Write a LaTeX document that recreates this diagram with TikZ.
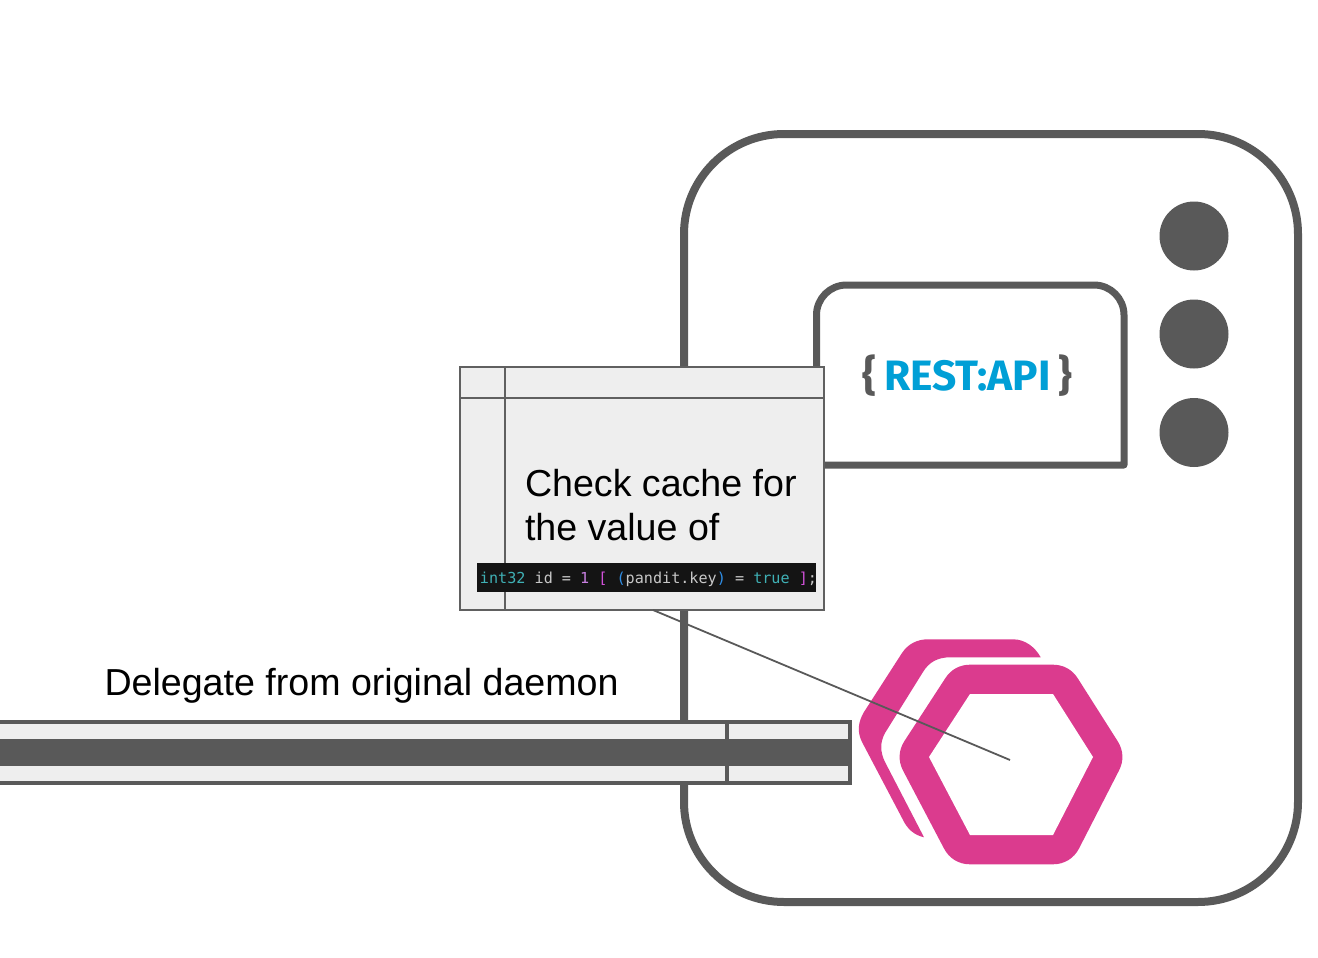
\documentclass[tikz,border=0pt]{standalone}
\usepackage{fontspec}
\setmainfont{Liberation Sans}
\newfontfamily\codefont{DejaVu Sans Mono}
\newfontfamily\brandfont{Fira Sans}
\usepackage{xcolor}
\definecolor{framegrey}{HTML}{595959}
\definecolor{boxgrey}{HTML}{EEEEEE}
\definecolor{edgegrey}{HTML}{606060}
\definecolor{hexpink}{HTML}{DB3B8E}
\definecolor{restblue}{HTML}{009FD6}
\definecolor{codeteal}{HTML}{3FB0B5}
\definecolor{codetext}{HTML}{C8C8C8}
\definecolor{codepurple}{HTML}{C77FE0}
\definecolor{codemagenta}{HTML}{D050D8}
\definecolor{codeblue}{HTML}{2F8FE8}
\tikzset{
	frame/.style={draw=framegrey,line width=8pt,rounded corners=100pt,inner sep=0pt,outer sep=0pt,minimum width=614pt,minimum height=768pt},
	led/.style={circle,fill=framegrey,inner sep=0pt,outer sep=0pt,minimum size=69pt},
	callout/.style={draw=edgegrey,fill=boxgrey,line width=2pt,inner sep=0pt,outer sep=0pt,minimum width=364pt,minimum height=243pt},
	label/.style={font=\fontsize{37.6}{44}\selectfont,inner sep=0pt,outer sep=0pt,align=left},
	pointer/.style={draw=framegrey,line width=1.8pt}
}
\begin{document}
\begin{tikzpicture}[x=1pt,y=-1pt]
	\useasboundingbox (0,0) rectangle (1318,958);
	\node[frame] (device) at (991,518) {};
	\node[led] (led1) at (1194,236) {};
	\node[led] (led2) at (1194,334) {};
	\node[led] (led3) at (1194,432.5) {};
	% rest panel
	\draw[framegrey,line width=7pt,line join=round] (816.5,465) [rounded corners=30pt] -- (816.5,285) -- (1124,285) [sharp corners] -- (1124,465) -- cycle;
	\node[inner sep=0pt,font=\brandfont\bfseries\fontsize{42.5}{42.5}\selectfont] (restapi) at (967.5,376) {\textcolor{framegrey}{\{}\hspace{8pt}\textcolor{restblue}{REST:API}\hspace{8pt}\textcolor{framegrey}{\}}};
	% back hexagon
	\fill[hexpink] (1040.7,657.3) .. controls (1035,647) and (1025,639.3) .. (1013,639.3) -- (928,639.3)
		.. controls (917,639.3) and (908,644) .. (902,653) -- (864,712)
		.. controls (858,722) and (857,732) .. (862,742) -- (902,818)
		.. controls (907,829) and (914,835) .. (924,837.3) -- (885,762)
		.. controls (880,752) and (880,742) .. (885,733) -- (923,672)
		.. controls (929,662) and (938,657.3) .. (950,657.3) -- cycle;
	% front hexagon
	\draw[hexpink,fill=white,line width=58.6pt,line join=round] (970,694) -- (1053,694) -- (1093,757) -- (1053,835) -- (970,835) -- (929,757) -- cycle;
	\fill[white] (970,694) -- (1053,694) -- (1093,757) -- (1053,835) -- (970,835) -- (929,757) -- cycle;
	% delegate bar
	\draw[draw=framegrey,fill=boxgrey,line width=4pt] (-10,722) rectangle (849.5,782.5);
	\fill[framegrey] (-10,739) rectangle (849.5,766);
	\draw[framegrey,line width=3.5pt] (727,722) -- (727,782.5);
	\node[label,anchor=base west] (delegate) at (104.5,695) {Delegate from original daemon};
	% callout
	\node[callout] (check) at (642,488.5) {};
	\draw[edgegrey,line width=2pt] (505,367) -- (505,610) (460,397.5) -- (824,397.5);
	\node[label,anchor=north west] (checktext) at (525,469) {Check cache for\\the value of};
	\node[fill=black!92,inner sep=0pt,outer sep=0pt,minimum width=339pt,minimum height=29pt] (code) at (646.5,577.5) {\makebox[339pt]{\hspace{4pt}\raisebox{-5.5pt}[0pt][0pt]{\codefont\fontsize{15.13}{15}\selectfont\textcolor{codeteal}{int32} \textcolor{codetext}{id =} \textcolor{codepurple}{1} \textcolor{codemagenta}{[} \textcolor{codeblue}{(}\textcolor{codetext}{pandit.key}\textcolor{codeblue}{)} \textcolor{codetext}{=} \textcolor{codeteal}{true} \textcolor{codemagenta}{]}\textcolor{codetext}{;}}}};
	\coordinate (tip) at (1010,760);
	\draw[pointer] ([xshift=11pt]check.south) -- (tip);
\end{tikzpicture}
\end{document}
